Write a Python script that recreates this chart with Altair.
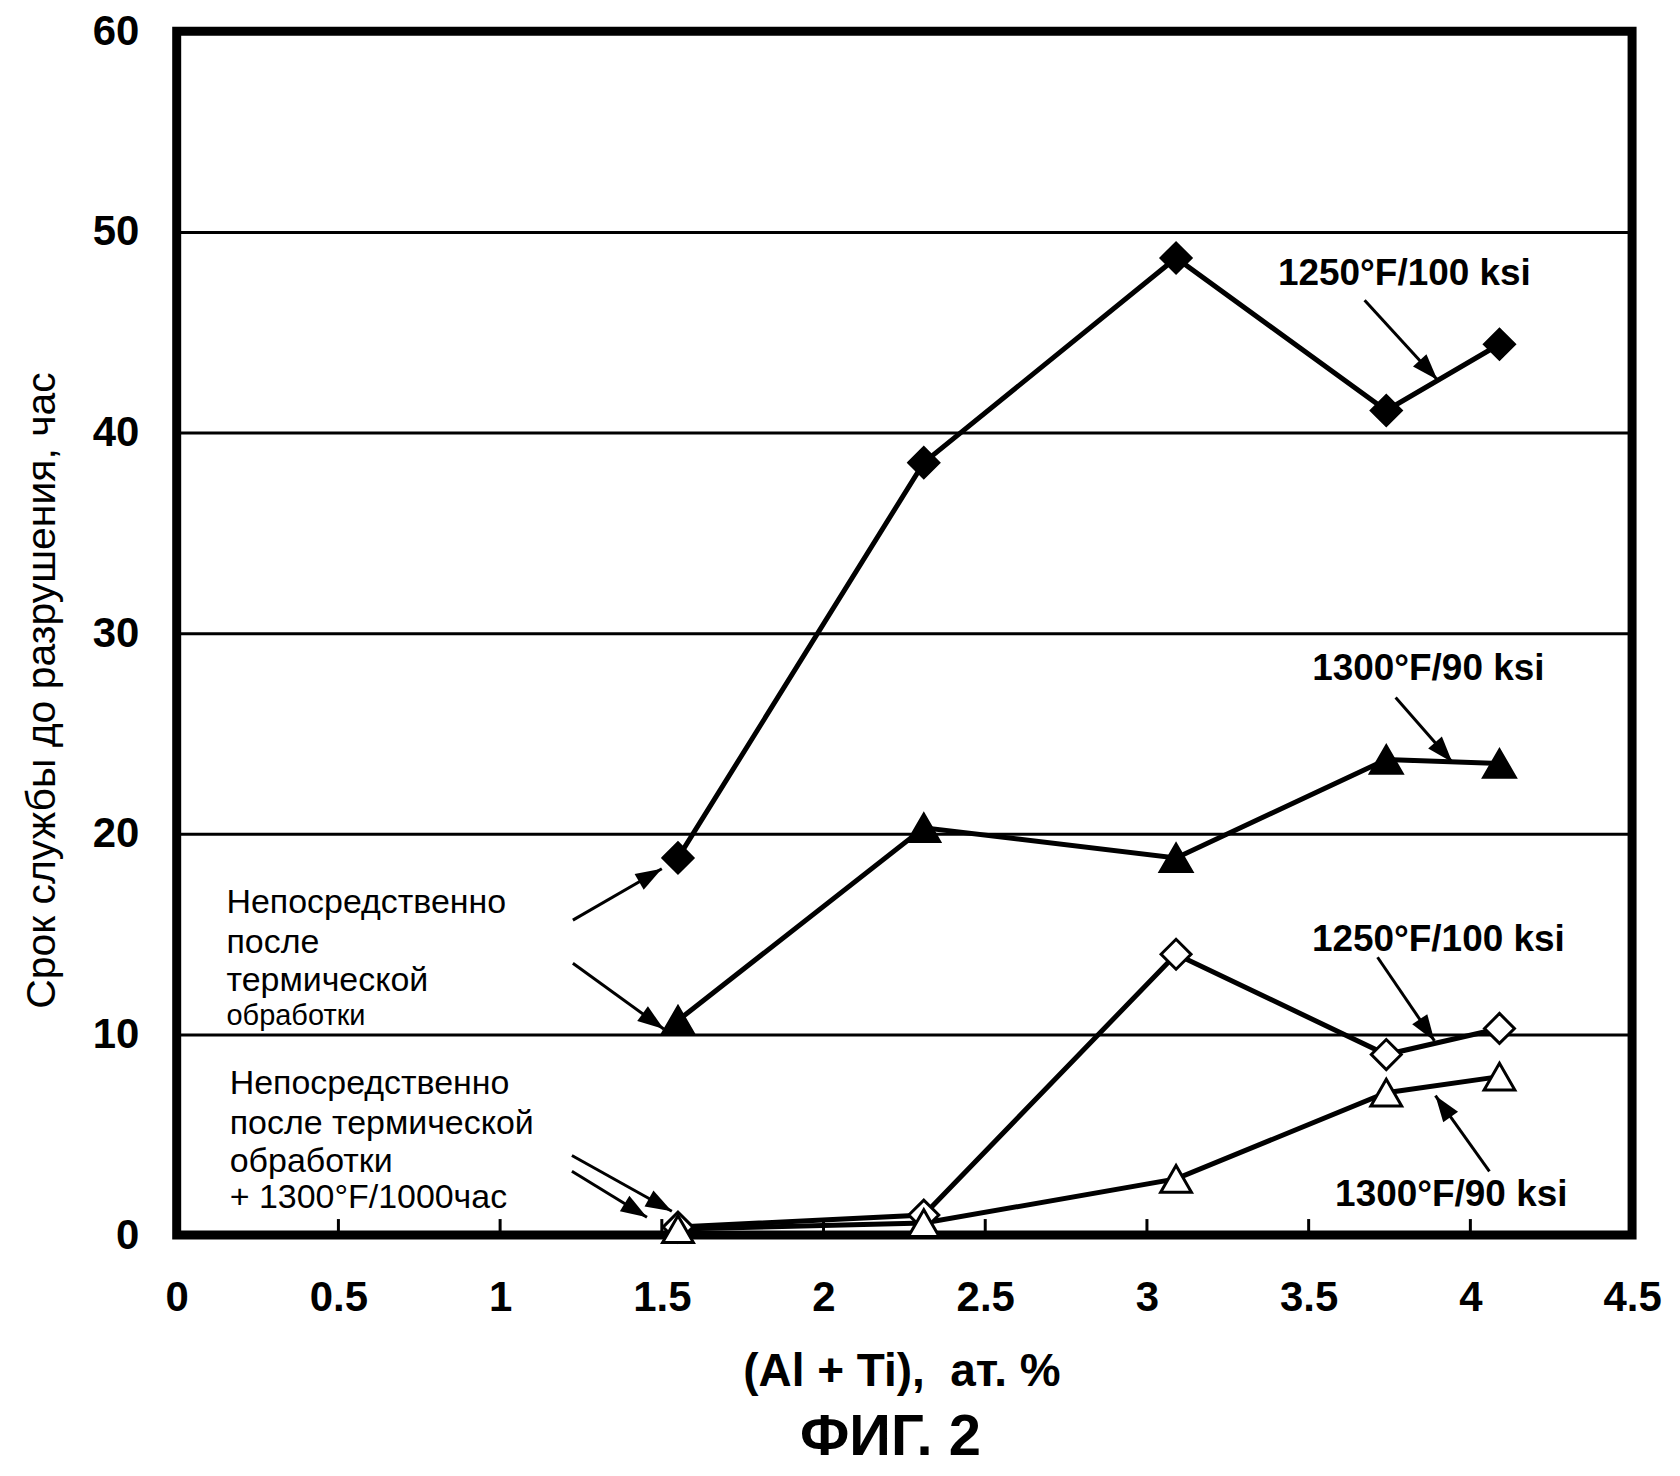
import math
import altair as alt
import pandas as pd

# ---------------- data ----------------
x_vals = [1.55, 2.31, 3.09, 3.74, 4.09]          # (Al + Ti), at.%
y_1250_ht = [18.8, 38.5, 48.7, 41.1, 44.4]       # filled diamonds
y_1300_ht = [10.7, 20.3, 18.8, 23.7, 23.5]       # filled triangles
y_1250_exp = [0.4, 1.0, 14.0, 9.0, 10.3]         # open diamonds
y_1300_exp = [0.3, 0.6, 2.8, 7.1, 7.9]           # open triangles

x_ticks = [0, 0.5, 1, 1.5, 2, 2.5, 3, 3.5, 4, 4.5]
y_ticks = [0, 10, 20, 30, 40, 50, 60]
minor_x = [0.5, 1, 1.5, 2, 2.5, 3, 3.5, 4]

# annotation labels (data coordinates)
right_labels = ["1250°F/100 ksi", "1300°F/90 ksi", "1250°F/100 ksi", "1300°F/90 ksi"]
right_lx = [3.796, 3.870, 3.901, 3.941]
right_ly = [47.9, 28.2, 14.7, 2.0]

left1_lines = ["Непосредственно", "после", "термической"]
left1_x = [0.154, 0.154, 0.154]
left1_y = [16.55, 14.55, 12.65]
left1b_line = ["обработки"]
left1b_x = [0.154]
left1b_y = [10.9]

left2_lines = ["Непосредственно", "после термической", "обработки", "+ 1300°F/1000час"]
left2_x = [0.164, 0.164, 0.164, 0.164]
left2_y = [7.55, 5.55, 3.65, 1.85]

# arrows: start -> tip
arr_x1 = [1.225, 1.225, 1.222, 1.222, 3.673, 3.769, 3.713, 4.059]
arr_y1 = [15.7, 13.55, 3.97, 3.18, 46.6, 26.8, 13.85, 3.18]
arr_x2 = [1.50, 1.506, 1.531, 1.454, 3.898, 3.944, 3.889, 3.892]
arr_y2 = [18.26, 10.27, 1.19, 0.89, 42.63, 23.57, 9.68, 6.95]

# ---------------- layout ----------------
W, H = 1458, 1206
X_MAX, Y_MAX = 4.5, 60
FONT = "Liberation Sans"
PAD_TOP = 22

xs = alt.Scale(domain=[0, X_MAX], nice=False, zero=False)
ys = alt.Scale(domain=[0, Y_MAX], nice=False, zero=False)

xaxis = alt.Axis(
    values=x_ticks, format="~g", grid=False, ticks=False, tickSize=0, domain=False,
    labelFont=FONT, labelFontSize=42, labelFontWeight="bold", labelColor="black",
    labelPadding=43, labelFlush=False, labelOverlap=False,
    title="(Al + Ti),\u00a0 ат. %", titleFont=FONT, titleFontSize=46,
    titleFontWeight="bold", titleColor="black", titleX=726, titleY=137,
    titleAlign="center", titleBaseline="middle",
)
yaxis = alt.Axis(
    values=y_ticks, grid=True, gridColor="black", gridWidth=3, gridOpacity=1,
    ticks=False, tickSize=0, domain=False,
    labelFont=FONT, labelFontSize=42, labelFontWeight="bold", labelColor="black",
    labelPadding=38, labelOverlap=False,
    title="Срок службы до разрушения, час", titleFont=FONT, titleFontSize=41,
    titleFontWeight="normal", titleColor="black", titleAngle=270,
    titleX=-134, titleY=660, titleAlign="center", titleBaseline="middle",
)

X = alt.X("x:Q", scale=xs, axis=xaxis)
Y = alt.Y("y:Q", scale=ys, axis=yaxis)

layers = []

# inward minor ticks on the x axis
tick_df = pd.DataFrame({"x": minor_x, "y": [0] * len(minor_x), "y2": [0.8] * len(minor_x)})
layers.append(alt.Chart(tick_df).mark_rule(color="black", strokeWidth=3).encode(x=X, y=Y, y2="y2:Q"))


def series(yv, shape, filled, size):
    df = pd.DataFrame({"x": x_vals, "y": yv})
    base = alt.Chart(df).encode(x=X, y=Y)
    line = base.mark_line(color="black", strokeWidth=5)
    pts = base.mark_point(
        shape=shape, size=size, filled=True, color="black",
        fill="black" if filled else "white", stroke="black",
        strokeWidth=3, opacity=1, fillOpacity=1,
    )
    return line, pts


lines, points = [], []
for yv, shp, fl, sz in [
    (y_1250_ht, "diamond", True, 900),
    (y_1300_ht, "triangle-up", True, 1000),
    (y_1250_exp, "diamond", False, 900),
    (y_1300_exp, "triangle-up", False, 950),
]:
    l, p = series(yv, shp, fl, sz)
    lines.append(l)
    points.append(p)
layers += lines

# arrows
angles = []
for a, b, c, d in zip(arr_x1, arr_y1, arr_x2, arr_y2):
    dx = (c - a) * W / X_MAX
    dy = -(d - b) * H / Y_MAX
    angles.append(math.degrees(math.atan2(dx, -dy)) % 360)

arr_df = pd.DataFrame({"x": arr_x1, "y": arr_y1, "x2": arr_x2, "y2": arr_y2})
layers.append(alt.Chart(arr_df).mark_rule(color="black", strokeWidth=3).encode(
    x=X, y=Y, x2="x2:Q", y2="y2:Q"))
head_df = pd.DataFrame({"x": arr_x2, "y": arr_y2, "ang": angles})
layers.append(alt.Chart(head_df).mark_point(
    shape="M0,0 L-0.8,2.3 L0.8,2.3 Z", size=520, filled=True, color="black",
    opacity=1, strokeWidth=0).encode(x=X, y=Y, angle=alt.Angle("ang:Q", scale=None)))

layers += points

# text annotations
r_df = pd.DataFrame({"x": right_lx, "y": right_ly, "t": right_labels})
layers.append(alt.Chart(r_df).mark_text(
    align="center", baseline="middle", font=FONT, fontSize=37, fontWeight="bold",
    color="black").encode(x=X, y=Y, text="t:N"))

l1 = pd.DataFrame({"x": left1_x, "y": left1_y, "t": left1_lines})
layers.append(alt.Chart(l1).mark_text(
    align="left", baseline="middle", font=FONT, fontSize=34, color="black"
).encode(x=X, y=Y, text="t:N"))
l1b = pd.DataFrame({"x": left1b_x, "y": left1b_y, "t": left1b_line})
layers.append(alt.Chart(l1b).mark_text(
    align="left", baseline="middle", font=FONT, fontSize=29, color="black"
).encode(x=X, y=Y, text="t:N"))
l2 = pd.DataFrame({"x": left2_x, "y": left2_y, "t": left2_lines})
layers.append(alt.Chart(l2).mark_text(
    align="left", baseline="middle", font=FONT, fontSize=34, color="black"
).encode(x=X, y=Y, text="t:N"))

# figure caption
cap_df = pd.DataFrame({"t": ["ФИГ. 2"]})
layers.append(alt.Chart(cap_df).mark_text(
    align="center", baseline="middle", font=FONT, fontSize=58, fontWeight="bold",
    color="black").encode(x=alt.value(715), y=alt.value(1409), text="t:N"))

chart = alt.layer(*layers).properties(
    width=W, height=H,
    padding={"left": 169, "top": PAD_TOP, "right": 40, "bottom": 1468 - PAD_TOP - H},
    autosize=alt.AutoSizeParams(type="none"),
    background="white",
).configure(font=FONT).configure_view(stroke="black", strokeWidth=9)

chart.save("out.html", embed_options={"renderer": "svg", "actions": False})
